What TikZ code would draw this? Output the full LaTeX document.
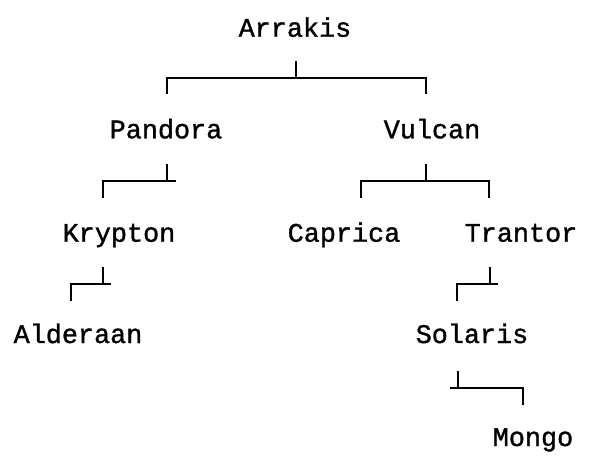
\documentclass[tikz,border=0pt]{standalone}
\usepackage{fontspec}
\usetikzlibrary{calc}
\newfontfamily\treefont[FakeBold=1.2]{Liberation Mono}
\begin{document}
\begin{tikzpicture}[x=1pt,y=-1pt,
  planet/.style={anchor=base,inner sep=0pt,font=\treefont\fontsize{26.8}{30}\selectfont},
  branch/.style={line width=2.1pt,line cap=butt,black}]
\useasboundingbox (0,0) rectangle (589,461);

% planet names (x = centre, y = baseline)
\node[planet] (arrakis)  at (295,36.7)  {Arrakis};
\node[planet] (pandora)  at (166,138.3) {Pandora};
\node[planet] (vulcan)   at (432,138.3) {Vulcan};
\node[planet] (krypton)  at (119,241.7) {Krypton};
\node[planet] (caprica)  at (344,241.7) {Caprica};
\node[planet] (trantor)  at (521,241.7) {Trantor};
\node[planet] (alderaan) at (78,343)    {Alderaan};
\node[planet] (solaris)  at (472,343)   {Solaris};
\node[planet] (mongo)    at (533,446)   {Mongo};

% junction points of each bracket
\coordinate (jArrakis) at (296,78);
\coordinate (jPandora) at (167,181);
\coordinate (jVulcan)  at (426,181);
\coordinate (jKrypton) at (103,284);
\coordinate (jTrantor) at (490,284);
\coordinate (jSolaris) at (458,388);

% Arrakis -> Pandora, Vulcan
\draw[branch] (jArrakis) -- ++(0,-17);
\draw[branch] (jArrakis) ++(-129,16) -- ++(0,-16) -- ++(259,0) -- ++(0,16);
% Pandora -> Krypton
\draw[branch] (jPandora) -- ++(0,-17);
\draw[branch] (jPandora) ++(-64,17) -- ++(0,-17) -- ($(jPandora)+(9,0)$);
% Vulcan -> Caprica, Trantor
\draw[branch] (jVulcan) -- ++(0,-17);
\draw[branch] (jVulcan) ++(-65,17) -- ++(0,-17) -- ++(128,0) -- ++(0,17);
% Krypton -> Alderaan
\draw[branch] (jKrypton) -- ++(0,-17);
\draw[branch] (jKrypton) ++(-32,17) -- ++(0,-17) -- ($(jKrypton)+(8,0)$);
% Trantor -> Solaris
\draw[branch] (jTrantor) -- ++(0,-17);
\draw[branch] (jTrantor) ++(-33,17) -- ++(0,-17) -- ($(jTrantor)+(8,0)$);
% Solaris -> Mongo
\draw[branch] (jSolaris) -- ++(0,-17);
\draw[branch] (jSolaris) ++(-8,0) -- ++(73,0) -- ++(0,17);
\end{tikzpicture}
\end{document}
